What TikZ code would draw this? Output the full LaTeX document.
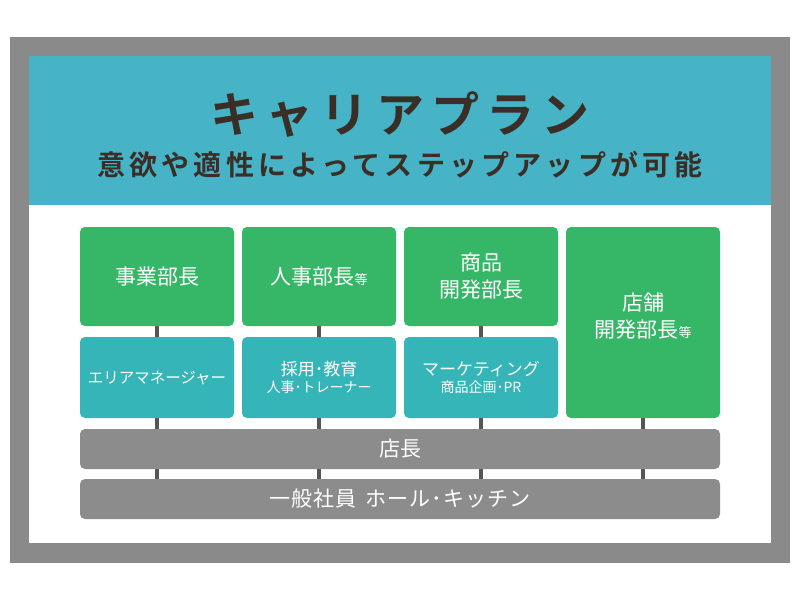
\documentclass[tikz,border=0pt]{standalone}
\usepackage{fontspec}
\usetikzlibrary{backgrounds}
\newfontfamily\jpfont{Noto Sans CJK JP}
\newfontfamily\jptitle[LetterSpace=15]{Noto Sans CJK JP Bold}
\newfontfamily\jpsub[LetterSpace=15]{Noto Sans CJK JP Bold}
\newfontfamily\jpwide[LetterSpace=5]{Noto Sans CJK JP}
\definecolor{framegray}{HTML}{8A8A8A}
\definecolor{headteal}{HTML}{46B4C6}
\definecolor{boxgreen}{HTML}{36B767}
\definecolor{boxteal}{HTML}{36B5B9}
\definecolor{bargray}{HTML}{8C8C8C}
\definecolor{conngray}{HTML}{555555}
\definecolor{titlebrown}{HTML}{3B2E27}
\tikzset{
  greenbox/.style={fill=boxgreen, rounded corners=5pt, text=white, align=center,
    minimum width=154pt, minimum height=99pt, inner sep=0pt,
    font=\jpfont\fontsize{21}{27}\selectfont},
  tealbox/.style={fill=boxteal, rounded corners=5pt, text=white, align=center,
    minimum width=154pt, minimum height=81pt, inner sep=0pt},
  barbox/.style={fill=bargray, rounded corners=5pt, text=white,
    minimum width=640pt, minimum height=40pt, inner sep=0pt},
  conn/.style={draw=conngray, line width=4pt}
}
\begin{document}
\begin{tikzpicture}[x=1pt,y=-1pt]
\useasboundingbox (0,0) rectangle (800,600);
\begin{scope}[on background layer]
\fill[white] (0,0) rectangle (800,600);
\fill[framegray] (10,37) rectangle (790,563);
\fill[white] (29,56) rectangle (771,543);
\fill[headteal] (29,56) rectangle (771,205);
\end{scope}
\node[text=titlebrown, font=\jptitle\fontsize{48}{50}\selectfont] (title) at (400,115) {キャリアプラン};
\node[text=titlebrown, font=\jpsub\fontsize{28}{30}\selectfont] (sub) at (400,165) {意欲や適性によってステップアップが可能};
% green boxes
\node[greenbox] (g1) at (157,276.5) {事業部長};
\node[greenbox] (g2) at (319,276.5) {人事部長{\fontsize{13}{13}\selectfont 等}};
\node[greenbox] (g3) at (481,276.5) {商品\\開発部長};
\node[greenbox, minimum height=191pt, text depth=0pt] (g4) at (643,322.5) {店舗\\開発部長{\fontsize{13}{13}\selectfont 等}\\[-12pt]\mbox{}};
% teal boxes
\node[tealbox, font=\jpfont\fontsize{15.5}{18}\selectfont] (t1) at (157,377.5) {エリアマネージャー};
\node[tealbox] (t2) at (319,377.5) {{\jpfont\fontsize{17}{20}\selectfont 採用･教育}\\[3pt]{\jpfont\fontsize{14}{18}\selectfont 人事･トレーナー}};
\node[tealbox] (t3) at (481,377.5) {{\jpfont\fontsize{17}{20}\selectfont マーケティング}\\[3pt]{\jpfont\fontsize{14}{18}\selectfont 商品企画･PR}};
% bars
\node[barbox, font=\jpfont\fontsize{21}{24}\selectfont] (mgr) at (400,449) {店長};
\node[barbox, font=\jpwide\fontsize{21}{24}\selectfont] (base) at (400,499) {一般社員\, ホール･キッチン};
% connectors
\begin{scope}[on background layer]
\draw[conn] (g1.center) -- (g1.center |- base.center);
\draw[conn] (g2.center) -- (g2.center |- base.center);
\draw[conn] (g3.center) -- (g3.center |- base.center);
\draw[conn] (g4.center) -- (g4.center |- base.center);
\end{scope}
\end{tikzpicture}
\end{document}
